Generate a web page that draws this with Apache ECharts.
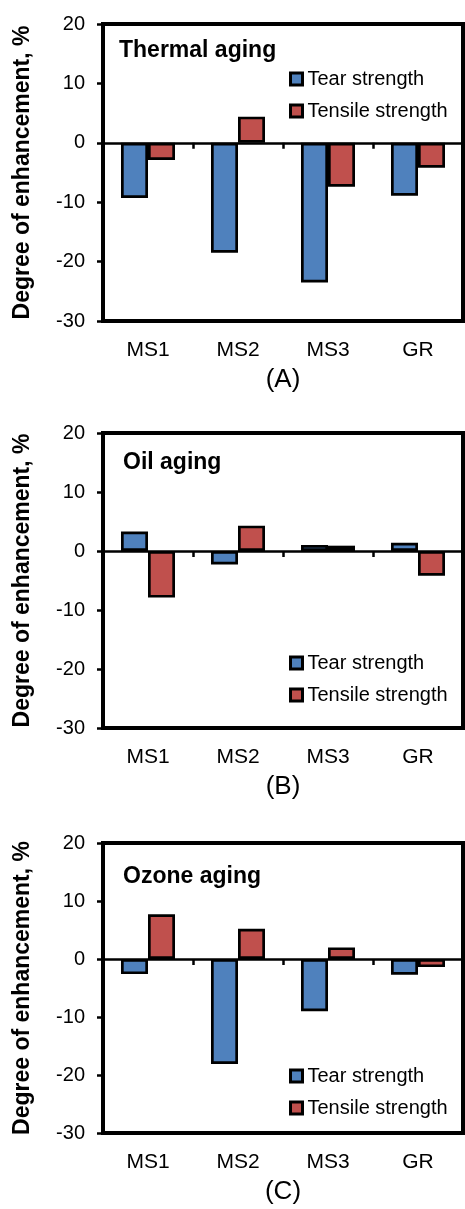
<!DOCTYPE html>
<html>
<head>
<meta charset="utf-8">
<script src="https://cdn.jsdelivr.net/npm/echarts@6/dist/echarts.min.js"></script>
<style>
  html, body { margin: 0; padding: 0; background: #fff; }
  #chart { width: 465px; height: 1209px; }
</style>
</head>
<body>
<div id="chart"></div>
<script>
// Sample categories and series labels
const categories = ['MS1', 'MS2', 'MS3', 'GR'];
const seriesNames = ['Tear strength', 'Tensile strength'];
const panelTitles = ['Thermal aging', 'Oil aging', 'Ozone aging'];
const panelLabels = ['(A)', '(B)', '(C)'];
const yAxisTitle = 'Degree of enhancement, %';

// Value axis range and tick step (%)
const yMin = -30;
const yMax = 20;
const yStep = 10;

// Degree of enhancement after aging, %
const thermalTear    = [-9.3, -18.5, -23.5, -8.9];
const thermalTensile = [-2.9,   4.4,  -7.4, -4.2];
const oilTear        = [ 3.3,  -2.3,   1.0,  1.4];
const oilTensile     = [-7.9,   4.3,   0.9, -4.2];
const ozoneTear      = [-2.6, -18.1,  -9.0, -2.7];
const ozoneTensile   = [ 7.7,   5.2,   2.0, -1.4];

const tearData = [thermalTear, oilTear, ozoneTear];
const tensileData = [thermalTensile, oilTensile, ozoneTensile];

const FONT = '"Liberation Sans", Arial, Helvetica, sans-serif';
const BLUE = '#4F81BD';
const RED = '#C0504D';

// Panel geometry (px)
const gridLeft = 103;
const gridRight = 2;
const panels = [
  { top: 24,  height: 297, titleLeft: 119, titleTop: 39,  legendTop: 69 },
  { top: 433, height: 295, titleLeft: 123, titleTop: 451, legendTop: 653 },
  { top: 843, height: 290, titleLeft: 123, titleTop: 865, legendTop: 1066 }
];

const option = {
  backgroundColor: '#fff',
  animation: false,
  textStyle: { fontFamily: FONT, color: '#000' },
  title: [],
  legend: [],
  grid: [],
  xAxis: [],
  yAxis: [],
  series: []
};

panels.forEach((p, i) => {
  option.grid.push({
    left: gridLeft, right: gridRight, top: p.top, height: p.height,
    show: true, borderColor: '#000', borderWidth: 4, backgroundColor: 'transparent'
  });

  option.title.push({
    text: panelTitles[i], left: p.titleLeft, top: p.titleTop, padding: 0,
    textStyle: { fontFamily: FONT, fontSize: 23, fontWeight: 'bold', color: '#000' }
  });

  option.legend.push({
    data: seriesNames, orient: 'vertical', left: 289, top: p.legendTop, padding: 0,
    icon: 'rect', itemWidth: 12, itemHeight: 12, itemGap: 12, itemTextGap: 6,
    selectedMode: false,
    itemStyle: { borderColor: '#000', borderWidth: 3 },
    textStyle: { fontFamily: FONT, fontSize: 20, color: '#000' }
  });

  // zero line with category boundary ticks
  option.xAxis.push({
    type: 'category', gridIndex: i, data: categories, position: 'bottom',
    axisLine: { show: true, onZero: true, lineStyle: { color: '#000', width: 2.5 } },
    axisTick: { show: true, length: 6, lineStyle: { color: '#000', width: 2.5 } },
    axisLabel: { show: false }, splitLine: { show: false }
  });
  // bottom axis carrying the category labels and panel label
  option.xAxis.push({
    type: 'category', gridIndex: i, data: categories, position: 'bottom',
    axisLine: { show: false, onZero: false },
    axisTick: { show: false },
    axisLabel: { show: true, margin: 19, fontFamily: FONT, fontSize: 21, color: '#000' },
    name: panelLabels[i], nameLocation: 'middle', nameGap: 46,
    nameTextStyle: { fontFamily: FONT, fontSize: 26, color: '#000' },
    splitLine: { show: false }
  });

  option.yAxis.push({
    type: 'value', gridIndex: i, min: yMin, max: yMax, interval: yStep,
    axisLine: { show: false },
    axisTick: { show: true, length: 6, lineStyle: { color: '#000', width: 2.5 } },
    axisLabel: { margin: 18, fontFamily: FONT, fontSize: 20, color: '#000' },
    splitLine: { show: false },
    name: yAxisTitle, nameLocation: 'middle', nameGap: 69,
    nameTextStyle: { fontFamily: FONT, fontSize: 23, fontWeight: 'bold', color: '#000' }
  });

  const barStyle = (color) => ({ color: color, borderColor: '#000', borderWidth: 2.7 });
  option.series.push({
    name: seriesNames[0], type: 'bar', xAxisIndex: i * 2, yAxisIndex: i,
    data: tearData[i], barWidth: 27, barGap: '0%', itemStyle: barStyle(BLUE)
  });
  option.series.push({
    name: seriesNames[1], type: 'bar', xAxisIndex: i * 2, yAxisIndex: i,
    data: tensileData[i], barWidth: 27, barGap: '0%', itemStyle: barStyle(RED)
  });
});

const chart = echarts.init(document.getElementById('chart'), null, { renderer: 'canvas' });
chart.setOption(option);
</script>
</body>
</html>
